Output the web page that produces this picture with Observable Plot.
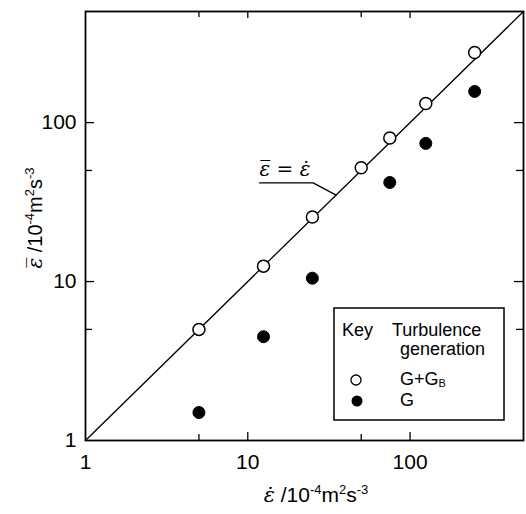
<!DOCTYPE html>
<html><head><meta charset="utf-8">
<script src="https://cdn.jsdelivr.net/npm/d3@7"></script>
<script src="https://cdn.jsdelivr.net/npm/@observablehq/plot@0.6"></script>
<style>html,body{margin:0;padding:0;background:#fff}svg{display:block}</style>
</head><body><div id="chart"></div>
<script>
// Data (units: 10^-4 m^2 s^-3)
const openX = [5, 12.5, 25, 50, 75, 125, 250];      // G+G_B : epsilon-dot
const openY = [5, 12.5, 25.5, 52, 80, 132, 276];    // G+G_B : epsilon-bar
const filledX = [5, 12.5, 25, 75, 125, 250];        // G : epsilon-dot
const filledY = [1.5, 4.5, 10.5, 42, 74, 157];      // G : epsilon-bar
const identityX = [1, 500];
const identityY = [1, 500];
const majorTicks = [1, 10, 100];
const innerMajor = [10, 100];
const minorTicks = [5, 50];
const leaderX = [11.8, 25.3, 35];
const leaderY = [41.8, 41.8, 35];
const annotationText = ["\u03B5\u0305 = \u03B5\u0307"];
const annotationX = [11.8];
const annotationY = [46];
const legendTitle = ["Key", "Turbulence", "generation"];
const legendLabels = ["G+G", "G"];

const openPts = openX.map((x, i) => ({x, y: openY[i]}));
const filledPts = filledX.map((x, i) => ({x, y: filledY[i]}));

const sans = "'Liberation Sans', Arial, Helvetica, sans-serif";
const W = 526, H = 514, mL = 85, mR = 3, mT = 11, mB = 74;
const iw = W - mL - mR, ih = H - mT - mB;
const tk = {stroke: "black", strokeWidth: 1.3};

const chart = Plot.plot({
  width: W, height: H,
  marginLeft: mL, marginRight: mR, marginTop: mT, marginBottom: mB,
  x: {type: "log", domain: [1, 500]},
  y: {type: "log", domain: [1, 500]},
  style: {fontFamily: sans, background: "white", color: "black"},
  marks: [
    Plot.axisX(majorTicks, {anchor: "bottom", tickSize: 0, tickPadding: 14, fontSize: 21, label: null, tickFormat: d => String(d)}),
    Plot.axisY(majorTicks, {anchor: "left", tickSize: 0, tickPadding: 9, fontSize: 21, label: null, tickFormat: d => String(d)}),
    // inward tick marks on all four sides
    Plot.tickX(innerMajor, {x: d => d, insetTop: ih - 8, ...tk}),
    Plot.tickX(minorTicks, {x: d => d, insetTop: ih - 6, ...tk}),
    Plot.tickX(innerMajor, {x: d => d, insetBottom: ih - 7, ...tk}),
    Plot.tickX(minorTicks, {x: d => d, insetBottom: ih - 6, ...tk}),
    Plot.tickY(innerMajor, {y: d => d, insetRight: iw - 9, ...tk}),
    Plot.tickY(minorTicks, {y: d => d, insetRight: iw - 7, ...tk}),
    Plot.tickY(innerMajor, {y: d => d, insetLeft: iw - 9, ...tk}),
    Plot.tickY(minorTicks, {y: d => d, insetLeft: iw - 7, ...tk}),
    Plot.line({length: identityX.length}, {x: identityX, y: identityY, stroke: "black", strokeWidth: 1.3}),
    Plot.line({length: leaderX.length}, {x: leaderX, y: leaderY, stroke: "black", strokeWidth: 1.3}),
    Plot.text(annotationText, {x: annotationX, y: annotationY, text: d => d, textAnchor: "start", lineAnchor: "bottom",
      fontSize: 20, fontStyle: "italic", fontFamily: "'DejaVu Serif', serif", fill: "black"}),
    Plot.dot(filledPts, {x: "x", y: "y", r: 6, fill: "black", stroke: "black", strokeWidth: 1}),
    Plot.dot(openPts, {x: "x", y: "y", r: 6, fill: "white", stroke: "black", strokeWidth: 1.5}),
    Plot.frame({stroke: "black", strokeWidth: 1.8})
  ]
});

document.getElementById("chart").appendChild(chart);
const svg = d3.select(chart);

// Axis labels with superscripts
function richLabel(g, epsChar) {
  g.append("tspan").attr("font-family", "'DejaVu Serif', serif").attr("font-style", "italic").text(epsChar);
  g.append("tspan").text(" /10");
  g.append("tspan").attr("font-size", 13).attr("dy", -8).text("-4");
  g.append("tspan").attr("dy", 8).text("m");
  g.append("tspan").attr("font-size", 13).attr("dy", -8).text("2");
  g.append("tspan").attr("dy", 8).text("s");
  g.append("tspan").attr("font-size", 13).attr("dy", -8).text("-3");
}
const xl = svg.append("text").attr("x", 316).attr("y", 502).attr("text-anchor", "middle")
  .attr("font-family", sans).attr("font-size", 21).attr("fill", "black");
richLabel(xl, "\u03B5\u0307");
const yl = svg.append("text").attr("transform", "translate(42,218) rotate(-90)").attr("text-anchor", "middle")
  .attr("font-family", sans).attr("font-size", 20).attr("fill", "black");
richLabel(yl, "\u03B5\u0305");

// Legend box
const lg = svg.append("g").attr("font-family", sans).attr("font-size", 18).attr("fill", "black").attr("text-anchor", "start");
lg.append("rect").attr("x", 334).attr("y", 308).attr("width", 170).attr("height", 112)
  .attr("fill", "white").attr("stroke", "black").attr("stroke-width", 1.5);
lg.append("text").attr("x", 342).attr("y", 336).text(legendTitle[0]);
lg.append("text").attr("x", 392).attr("y", 336).text(legendTitle[1]);
lg.append("text").attr("x", 400).attr("y", 355).text(legendTitle[2]);
lg.append("circle").attr("cx", 356).attr("cy", 380).attr("r", 5).attr("fill", "white").attr("stroke", "black").attr("stroke-width", 1.3);
lg.append("circle").attr("cx", 357).attr("cy", 401).attr("r", 5.5).attr("fill", "black");
const t1 = lg.append("text").attr("x", 400).attr("y", 385);
t1.append("tspan").text(legendLabels[0]);
t1.append("tspan").attr("font-size", 11).attr("dy", 2).text("B");
lg.append("text").attr("x", 400).attr("y", 406).text(legendLabels[1]);
</script>
</body></html>
